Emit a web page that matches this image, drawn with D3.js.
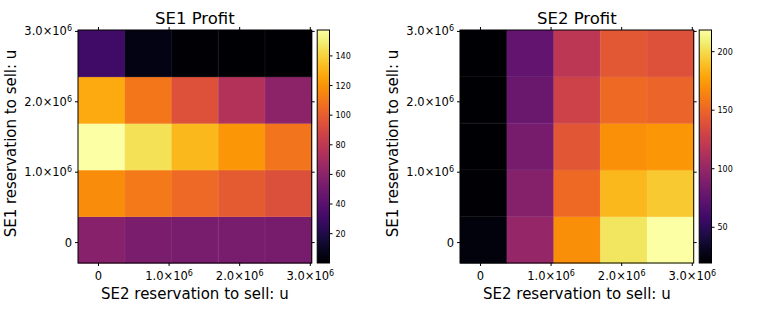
<!DOCTYPE html>
<html><head><meta charset="utf-8">
<script src="https://cdn.jsdelivr.net/npm/d3@7"></script>
<style>body{margin:0;background:#fff}svg{display:block}text{font-family:"DejaVu Sans",sans-serif;fill:#000}</style>
</head><body><svg id="c" width="763" height="314"></svg>
<script>
// Column categories: SE2 reservation levels; row categories: SE1 reservation levels (bottom to top)
const se2Levels = ["c0","c1","c2","c3","c4"];
const se1Levels = ["r0","r1","r2","r3","r4"];
const axisTicks = [0, 1e6, 2e6, 3e6];
const axisDomain = [-0.29e6, 3.02e6];
// Values: rows listed bottom (SE1=0) to top (SE1=3e6), columns left to right
const se1Profit = [
  [58, 53.5, 53, 52.5, 52],
  [118, 111, 105, 99, 94],
  [157.5, 145, 132, 121, 109],
  [127.5, 110, 94.5, 75.5, 60],
  [31.5, 6, 1, 0.5, 0.2]
];
const se2Profit = [
  [23.5, 100, 169, 205, 218.5],
  [20.5, 92, 153, 186, 193],
  [20, 85, 142, 170, 172],
  [19.8, 79, 129, 153, 150],
  [19.5, 75, 119, 143, 139]
];
const se1Ticks = [20, 40, 60, 80, 100, 120, 140];
const se2Ticks = [50, 100, 150, 200];
const titles = ["SE1 Profit", "SE2 Profit"];
const xLabel = "SE2 reservation to sell: u";
const yLabel = "SE1 reservation to sell: u";

const svg = d3.select("#c");
const defs = svg.append("defs");

function sciLabel(sel, v){
  if (v === 0){ sel.text("0"); return; }
  const e = Math.floor(Math.log10(v));
  const m = (v/Math.pow(10,e)).toFixed(1);
  sel.append("tspan").text(m + "×10");
  sel.append("tspan").attr("dy", -4).attr("font-size", "8px").text(e);
}

function panel(ox, data, cticks, title, idx){
  const x0 = ox, x1 = ox + 233.7, y0 = 30, y1 = 263;
  const g = svg.append("g");
  const xb = d3.scaleBand().domain(se2Levels).range([x0, x1]);
  const yb = d3.scaleBand().domain(se1Levels).range([y1, y0]);
  const xl = d3.scaleLinear().domain(axisDomain).range([x0, x1]);
  const yl = d3.scaleLinear().domain(axisDomain).range([y1, y0]);
  const flat = data.flat();
  const ext = d3.extent(flat);
  const col = d3.scaleSequential(d3.interpolateInferno).domain(ext);

  data.forEach((row, ri) => row.forEach((v, ci) => {
    g.append("rect")
      .attr("x", xb(se2Levels[ci])).attr("y", yb(se1Levels[ri]))
      .attr("width", xb.bandwidth()+0.5).attr("height", yb.bandwidth()+0.5)
      .attr("fill", col(v));
  }));
  // faint cell seams
  se2Levels.slice(1).forEach(c => g.append("line").attr("x1", xb(c)).attr("x2", xb(c)).attr("y1", y0).attr("y2", y1)
    .attr("stroke", "rgba(255,255,255,0.07)").attr("stroke-width", 1));
  se1Levels.slice(1).forEach(r => g.append("line").attr("y1", yb(r)+yb.bandwidth()).attr("y2", yb(r)+yb.bandwidth()).attr("x1", x0).attr("x2", x1)
    .attr("stroke", "rgba(255,255,255,0.07)").attr("stroke-width", 1));

  // frame
  g.append("rect").attr("x", x0).attr("y", y0).attr("width", x1-x0).attr("height", y1-y0)
    .attr("fill", "none").attr("stroke", "#000").attr("stroke-width", 1);

  // ticks outward on all four sides
  axisTicks.forEach(t => {
    const px = xl(t), py = yl(t);
    g.append("line").attr("x1", px).attr("x2", px).attr("y1", y1).attr("y2", y1+3).attr("stroke", "#000");
    g.append("line").attr("x1", px).attr("x2", px).attr("y1", y0).attr("y2", y0-3).attr("stroke", "#000");
    g.append("line").attr("y1", py).attr("y2", py).attr("x1", x0).attr("x2", x0-3).attr("stroke", "#000");
    g.append("line").attr("y1", py).attr("y2", py).attr("x1", x1).attr("x2", x1+3).attr("stroke", "#000");
    g.append("text").attr("x", px).attr("y", 279.5).attr("text-anchor", "middle").attr("font-size", "11.5px").call(sciLabel, t);
    g.append("text").attr("x", x0-6).attr("y", py+4).attr("text-anchor", "end").attr("font-size", "11.5px").call(sciLabel, t);
  });

  // title and labels
  g.append("text").attr("x", (x0+x1)/2).attr("y", 23.5).attr("text-anchor", "middle").attr("font-size", "16.5px").text(title);
  g.append("text").attr("x", (x0+x1)/2).attr("y", 299).attr("text-anchor", "middle").attr("font-size", "15px").text(xLabel);
  g.append("text").attr("transform", `translate(${x0-62},${(y0+y1)/2 - 3}) rotate(-90)`)
    .attr("text-anchor", "middle").attr("font-size", "15px").text(yLabel);

  // colorbar
  const cx0 = x1 + 5.5, cw = 12.3;
  const gid = "grad" + idx;
  const grad = defs.append("linearGradient").attr("id", gid).attr("x1", 0).attr("x2", 0).attr("y1", 1).attr("y2", 0);
  d3.range(0, 1.0001, 0.05).forEach(t => grad.append("stop").attr("offset", t).attr("stop-color", d3.interpolateInferno(t)));
  g.append("rect").attr("x", cx0).attr("y", y0).attr("width", cw).attr("height", y1-y0)
    .attr("fill", `url(#${gid})`).attr("stroke", "#000").attr("stroke-width", 1);
  const cy = d3.scaleLinear().domain(ext).range([y1, y0]);
  cticks.forEach(t => {
    g.append("line").attr("x1", cx0+cw).attr("x2", cx0+cw+3).attr("y1", cy(t)).attr("y2", cy(t)).attr("stroke", "#000");
    g.append("text").attr("x", cx0+cw+6).attr("y", cy(t)+3).attr("font-size", "8px").text(t);
  });
}

panel(78, se1Profit, se1Ticks, titles[0], 0);
panel(460, se2Profit, se2Ticks, titles[1], 1);
</script></body></html>
